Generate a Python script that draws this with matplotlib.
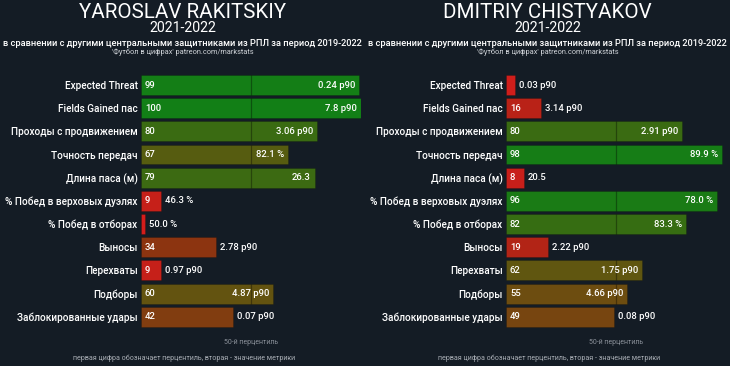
import matplotlib
matplotlib.use("Agg")
import matplotlib.pyplot as plt
from matplotlib.colors import LinearSegmentedColormap

# Данные
metrics = ["Expected Threat", "Fields Gained пас", "Проходы с продвижением",
           "Точность передач", "Длина паса (м)", "% Побед в верховых дуэлях",
           "% Побед в отборах", "Выносы", "Перехваты", "Подборы",
           "Заблокированные удары"]

players = ["YAROSLAV RAKITSKIY", "DMITRIY CHISTYAKOV"]
season = "2021-2022"

rakitskiy_pct = [99, 100, 80, 67, 79, 9, 2, 34, 9, 60, 42]
rakitskiy_val = ["0.24 p90", "7.8 p90", "3.06 p90", "82.1 %", "26.3", "46.3 %",
                 "50.0 %", "2.78 p90", "0.97 p90", "4.87 p90", "0.07 p90"]

chistyakov_pct = [4, 16, 80, 98, 8, 96, 82, 19, 62, 55, 49]
chistyakov_val = ["0.03 p90", "3.14 p90", "2.91 p90", "89.9 %", "20.5", "78.0 %",
                  "83.3 %", "2.22 p90", "1.75 p90", "4.66 p90", "0.08 p90"]

bg = "#141c25"
cmap = LinearSegmentedColormap.from_list("pct", [
    (0.0, "#d81c1c"), (0.2, "#b02416"), (0.35, "#8a3510"), (0.5, "#764610"),
    (0.65, "#5a5a10"), (0.8, "#3a6b12"), (1.0, "#127f16")])

plt.rcParams['font.family'] = ['Roboto', 'DejaVu Sans']

fig = plt.figure(figsize=(7.3, 3.66), dpi=100, facecolor=bg)

panels = [(rakitskiy_pct, rakitskiy_val), (chistyakov_pct, chistyakov_val)]
bar_h = 0.86

for i, (pct, vals) in enumerate(panels):
    x0 = i * 0.5
    ax = fig.add_axes([x0 + 0.1932, 0.103, 0.3014, 0.6964])
    ax.set_facecolor(bg)
    ypos = list(range(len(metrics)))
    colors = [cmap(p / 100) for p in pct]
    ax.barh(ypos, pct, height=bar_h, color=colors, edgecolor="#00000030", linewidth=0.6)
    # линия 50-го перцентиля поверх столбцов
    for y, p in zip(ypos, pct):
        if p > 50:
            ax.vlines(50, y - bar_h / 2, y + bar_h / 2, color="black",
                      alpha=0.35, lw=0.9, zorder=3)
    ax.set_xlim(0, 100)
    ax.set_ylim(10.5, -0.5)
    ax.set_yticks(ypos)
    ax.set_yticklabels(metrics, color="white", fontsize=7.2, fontweight="medium")
    ax.tick_params(axis="y", length=0, pad=2.5)
    ax.set_xticks([])
    for s in ax.spines.values():
        s.set_visible(False)

    for y, p, v in zip(ypos, pct, vals):
        if p >= 5:
            ax.text(1.8, y, str(p), color="white", fontsize=6.8, va="center",
                    ha="left", fontweight="medium")
        if p > 50:
            ax.text(p - 1.8, y, v, color="white", fontsize=6.8, va="center",
                    ha="right", fontweight="medium")
        else:
            ax.text(p + 1.8, y, v, color="white", fontsize=6.8, va="center",
                    ha="left", fontweight="medium")

    ax.text(50, 11.12, "50-й перцентиль", color="#8a9099", fontsize=5,
            ha="center", va="center")

    cx = x0 + 0.25
    fig.text(cx, 1 - 12.5 / 366, players[i], color="white", fontsize=14.8,
             ha="center", va="center")
    fig.text(cx, 1 - 28.5 / 366, season, color="white", fontsize=10.2,
             ha="center", va="center")
    fig.text(cx, 1 - 43 / 366,
             "в сравнении с другими центральными защитниками из РПЛ за период 2019-2022",
             color="white", fontsize=6.7, ha="center", va="center", fontweight="medium")
    fig.text(cx, 1 - 52.5 / 366, "'Футбол в цифрах' patreon.com/markstats",
             color="#cfd3d8", fontsize=5.3, ha="center", va="center")
    fig.text(cx + 0.002, 1 - 358 / 366,
             "первая цифра обозначает перцентиль, вторая - значение метрики",
             color="#a8adb4", fontsize=5.1, ha="center", va="center")

fig.savefig("out.png", dpi=100, facecolor=bg)
